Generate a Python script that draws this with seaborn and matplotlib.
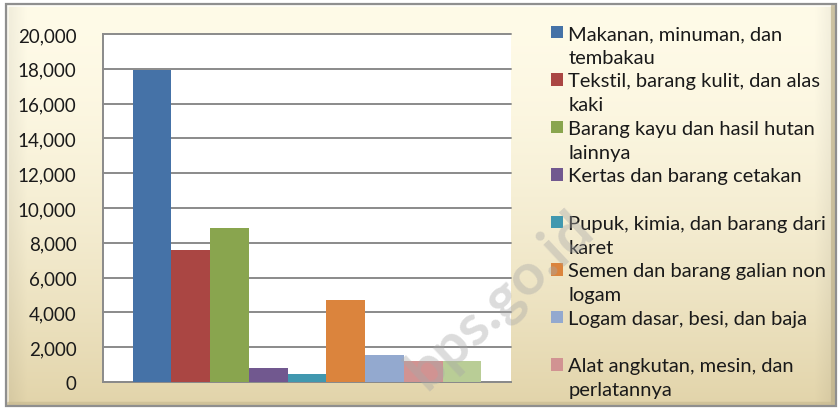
import numpy as np
import pandas as pd
import matplotlib
matplotlib.use("Agg")
import matplotlib.pyplot as plt
from matplotlib.patches import Patch, Rectangle
from matplotlib.ticker import FuncFormatter
import seaborn as sns

# ---- data ----
categories = [
    "Makanan, minuman, dan tembakau",
    "Tekstil, barang kulit, dan alas kaki",
    "Barang kayu dan hasil hutan lainnya",
    "Kertas dan barang cetakan",
    "Pupuk, kimia, dan barang dari karet",
    "Semen dan barang galian non logam",
    "Logam dasar, besi, dan baja",
    "Alat angkutan, mesin, dan perlatannya",
    "Barang lainnya",
]
values = [17950, 7600, 8830, 820, 440, 4710, 1550, 1190, 1180]
legend_labels = [
    "Makanan, minuman, dan\ntembakau",
    "Tekstil, barang kulit, dan alas\nkaki",
    "Barang kayu dan hasil hutan\nlainnya",
    "Kertas dan barang cetakan\n",
    "Pupuk, kimia, dan barang dari\nkaret",
    "Semen dan barang galian non\nlogam",
    "Logam dasar, besi, dan baja\n",
    "Alat angkutan, mesin, dan\nperlatannya",
]
colors = ["#4572A7", "#AA4643", "#89A54E", "#71588F", "#4198AF",
          "#DB843D", "#93A9CF", "#D19392", "#B9CD96"]
yticks = list(range(0, 20001, 2000))

df = pd.DataFrame({"grp": [""] * len(categories), "category": categories, "value": values})

sns.set_theme(style="white")
plt.rcParams["font.family"] = ["Lato", "DejaVu Sans"]

W, H = 839, 410
fig = plt.figure(figsize=(W / 100, H / 100), dpi=100)
fig.patch.set_facecolor("white")

# ---- background frame with gradient ----
bg = fig.add_axes([0, 0, 1, 1], zorder=-10)
bg.set_xlim(0, W)
bg.set_ylim(H, 0)
bg.axis("off")
top = np.array([255, 251, 232]) / 255
bot = np.array([226, 212, 170]) / 255
yy = np.linspace(0, 1, 200)[:, None]
t = yy ** 1.6
grad = top[None, None, :] * (1 - t[..., None]) + bot[None, None, :] * t[..., None]
xx = np.linspace(0, 1, 400)[None, :]
edge = np.clip(1 - np.minimum(xx * 40, (1 - xx) * 40), 0, 1)[..., None] * 0.06
grad = np.broadcast_to(grad, (200, 400, 3)) * (1 - edge)
bg.imshow(grad, extent=(6, 836, 407, 5), aspect="auto", zorder=0)
bg.add_patch(Rectangle((6, 5), 830, 402, fill=False, edgecolor="#8f8f8f", lw=1.6, zorder=2))
bg.plot([8, 834], [7, 7], color="white", lw=1.2, alpha=0.8, zorder=1)
bg.plot([8, 8], [7, 405], color="white", lw=1.2, alpha=0.6, zorder=1)
bg.plot([833, 833], [7, 405], color="#bdb08a", lw=3, alpha=0.7, zorder=1)
bg.plot([8, 834], [404, 404], color="#c9bb92", lw=2.5, alpha=0.7, zorder=1)

# ---- plot area ----
ax = fig.add_axes([103 / W, 1 - 383 / H, 408 / W, 348 / H])
ax.set_facecolor("white")
sns.barplot(data=df, x="grp", y="value", hue="category", hue_order=categories,
            palette=colors, width=0.854, dodge=True, saturation=1,
            legend=False, ax=ax, linewidth=0, zorder=3)
ax.set_xlim(-0.5, 0.5)
ax.set_ylim(0, 20000)
ax.set_yticks(yticks)
ax.yaxis.set_major_formatter(FuncFormatter(lambda v, p: f"{int(v):,}"))
ax.tick_params(axis="y", length=0, pad=19, labelsize=13.5, labelcolor="#1a1a1a")
ax.tick_params(axis="x", length=0, labelbottom=False)
ax.set_xlabel("")
ax.set_ylabel("")
ax.yaxis.grid(True, color="#8a8a8a", lw=1.4, clip_on=False)
ax.set_axisbelow(True)
for s in ["top", "right"]:
    ax.spines[s].set_visible(False)
for s in ["left", "bottom"]:
    ax.spines[s].set_color("#8a8a8a")
    ax.spines[s].set_linewidth(1.4)

# ---- legend (one row per text line) ----
handles, labels = [], []
for lab, col in zip(legend_labels, colors):
    lines = lab.split("\n")
    for i, ln in enumerate(lines):
        if i == 0:
            handles.append(Patch(facecolor=col, edgecolor="none"))
        else:
            handles.append(Patch(facecolor="none", edgecolor="none"))
        labels.append(ln)
fs = 14.5
leg = fig.legend(handles, labels, loc="upper left", bbox_to_anchor=(551 / W, 1 - 26 / H),
                 frameon=False, fontsize=fs, borderpad=0, borderaxespad=0,
                 handlelength=0.58, handleheight=0.58, handletextpad=0.28,
                 labelspacing=0.335)
for txt in leg.get_texts():
    txt.set_color("#1a1a1a")

# ---- watermark ----
fig.text(500 / W, 1 - 300 / H, "bps.go.id", rotation=43, fontsize=42, fontweight="bold",
         color="#a8a8a8", alpha=0.4, ha="center", va="center", zorder=20)

fig.savefig("out.png", dpi=100)
